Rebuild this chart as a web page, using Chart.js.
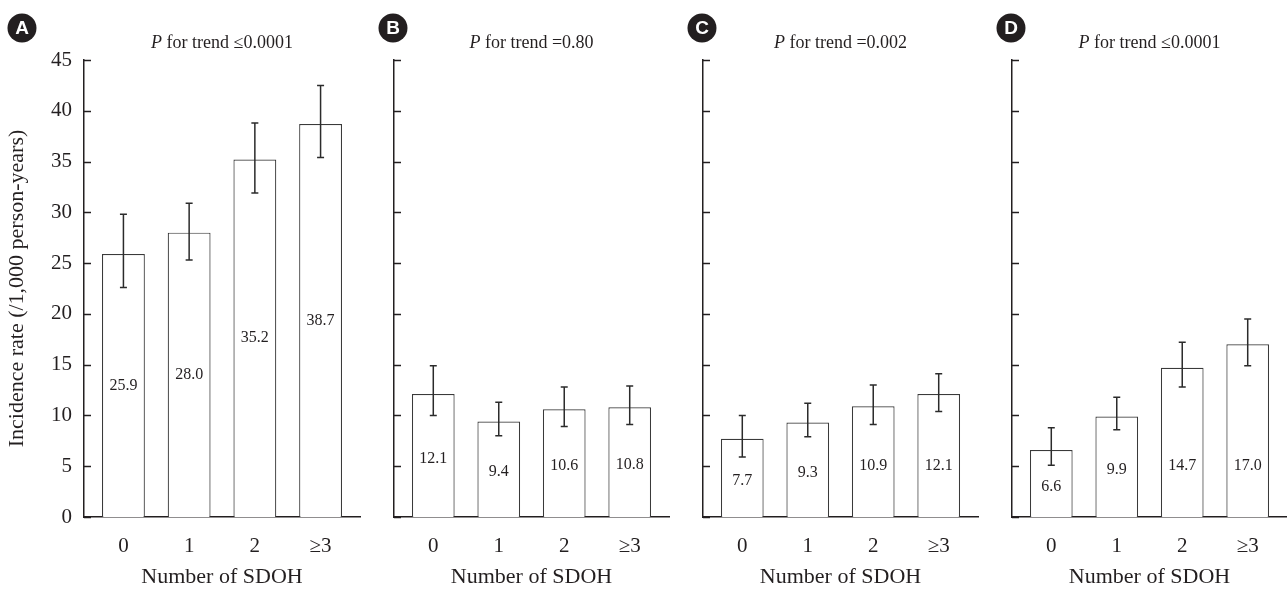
<!DOCTYPE html>
<html>
<head>
<meta charset="utf-8">
<script src="https://cdn.jsdelivr.net/npm/chart.js@4.4.1/dist/chart.umd.min.js"></script>
<style>
  body { margin: 0; background: #fff; }
  #wrap { position: relative; width: 1287px; height: 590px; }
  canvas { position: absolute; top: 0; }
</style>
</head>
<body>
<div id="wrap">
  <canvas id="panelA" width="370" height="590" style="left:0px"></canvas>
  <canvas id="panelB" width="310" height="590" style="left:370px"></canvas>
  <canvas id="panelC" width="310" height="590" style="left:680px"></canvas>
  <canvas id="panelD" width="297" height="590" style="left:990px"></canvas>
</div>
<script>
const categories = ['0', '1', '2', '≥3'];
const yTicks = [0, 5, 10, 15, 20, 25, 30, 35, 40, 45];

// incidence rate and 95% CI per panel
const rateA = [25.9, 28.0, 35.2, 38.7];
const lowA = [22.6, 25.3, 31.9, 35.4];
const highA = [29.8, 30.9, 38.8, 42.5];

const rateB = [12.1, 9.4, 10.6, 10.8];
const lowB = [10.0, 8.0, 8.9, 9.1];
const highB = [14.9, 11.3, 12.8, 12.9];

const rateC = [7.7, 9.3, 10.9, 12.1];
const lowC = [5.9, 7.9, 9.1, 10.4];
const highC = [10.0, 11.2, 13.0, 14.1];

const rateD = [6.6, 9.9, 14.7, 17.0];
const lowD = [5.1, 8.6, 12.8, 14.9];
const highD = [8.8, 11.8, 17.2, 19.5];

const INK = '#231f20';
const SERIF = '"Liberation Serif", "Times New Roman", serif';

// error bars, value labels, inward y ticks, panel title and letter badge
const panelDecor = {
    id: 'panelDecor',
    afterDatasetsDraw(chart, args, opts) {
        const ctx = chart.ctx;
        const ds = chart.data.datasets[0];
        const meta = chart.getDatasetMeta(0);
        const y = chart.scales.y;
        const area = chart.chartArea;
        ctx.save();

        // inward tick marks
        ctx.strokeStyle = INK;
        ctx.lineWidth = 1.5;
        y.ticks.forEach(t => {
            const py = Math.round(y.getPixelForValue(t.value)) + 0.5;
            ctx.beginPath();
            ctx.moveTo(area.left, py);
            ctx.lineTo(area.left + 7, py);
            ctx.stroke();
        });

        // error bars
        ctx.strokeStyle = '#2b2b2b';
        ctx.lineWidth = 1.5;
        meta.data.forEach((bar, i) => {
            const x = bar.x;
            const top = y.getPixelForValue(ds.ciHigh[i]);
            const bot = y.getPixelForValue(ds.ciLow[i]);
            ctx.beginPath();
            ctx.moveTo(x, top); ctx.lineTo(x, bot);
            ctx.moveTo(x - 3.5, top); ctx.lineTo(x + 3.5, top);
            ctx.moveTo(x - 3.5, bot); ctx.lineTo(x + 3.5, bot);
            ctx.stroke();
        });

        // value labels inside bars
        ctx.fillStyle = INK;
        ctx.font = '16px ' + SERIF;
        ctx.textAlign = 'center';
        ctx.textBaseline = 'middle';
        meta.data.forEach((bar, i) => {
            const v = ds.data[i].y;
            const py = y.getPixelForValue(Math.min(v / 2, opts.labelCap)) + opts.labelShift;
            ctx.fillText(v.toFixed(1), bar.x, py);
        });

        // title: italic P + rest
        const cx = (area.left + area.right) / 2;
        const italic = 'italic 18px ' + SERIF;
        const normal = '18px ' + SERIF;
        const rest = ' for trend ' + opts.trend;
        ctx.font = italic;
        const wP = ctx.measureText('P').width;
        ctx.font = normal;
        const wR = ctx.measureText(rest).width;
        const x0 = cx - (wP + wR) / 2;
        ctx.textAlign = 'left';
        ctx.font = italic;
        ctx.fillText('P', x0, 43);
        ctx.font = normal;
        ctx.fillText(rest, x0 + wP, 43);

        // letter badge
        const bx = opts.badgeX !== undefined ? opts.badgeX : area.left - 1;
        ctx.beginPath();
        ctx.arc(bx, 28, 14.5, 0, Math.PI * 2);
        ctx.fillStyle = INK;
        ctx.fill();
        ctx.fillStyle = '#fff';
        ctx.textAlign = 'center';
        ctx.font = 'bold 19px "Liberation Sans", Arial, sans-serif';
        ctx.fillText(opts.letter, bx, 29);

        ctx.restore();
    }
};

function makePanel(canvasId, rates, lows, highs, cfg) {
    new Chart(document.getElementById(canvasId), {
        type: 'bar',
        data: {
            datasets: [{
                data: rates.map((v, i) => ({ x: i, y: v })),
                ciLow: lows,
                ciHigh: highs,
                backgroundColor: '#ffffff',
                borderColor: '#3a3a3a',
                borderWidth: 1.2,
                barPercentage: 0.652,
                categoryPercentage: 1
            }]
        },
        options: {
            responsive: false,
            animation: false,
            layout: { padding: { left: 0, right: cfg.padRight, top: 60, bottom: 0 } },
            plugins: {
                legend: { display: false },
                tooltip: { enabled: false },
                panelDecor: {
                    letter: cfg.letter,
                    trend: cfg.trend,
                    badgeX: cfg.badgeX,
                    labelCap: cfg.labelCap,
                    labelShift: cfg.labelShift
                }
            },
            scales: {
                x: {
                    type: 'linear',
                    offset: false,
                    min: -0.6,
                    max: 3.6,
                    grid: { display: false },
                    border: { display: true, color: INK, width: 1.5 },
                    afterBuildTicks: scale => {
                        scale.ticks = categories.map((c, i) => ({ value: i }));
                    },
                    afterFit: scale => { scale.height = 73; },
                    ticks: {
                        padding: 9,
                        color: INK,
                        font: { family: SERIF, size: 21 },
                        callback: v => categories[v]
                    },
                    title: {
                        display: true,
                        text: 'Number of SDOH',
                        color: INK,
                        font: { family: SERIF, size: 22 },
                        padding: { top: 0, bottom: 0 }
                    }
                },
                y: {
                    min: 0,
                    max: 45,
                    afterBuildTicks: scale => {
                        scale.ticks = yTicks.map(v => ({ value: v }));
                    },
                    afterFit: scale => { scale.width = cfg.yWidth; },
                    grid: { display: false, drawTicks: false },
                    border: { display: true, color: INK, width: 1.5 },
                    ticks: {
                        display: cfg.showY,
                        padding: 12,
                        color: INK,
                        font: { family: SERIF, size: 21 }
                    },
                    title: {
                        display: cfg.showY,
                        text: 'Incidence rate (/1,000 person-years)',
                        color: INK,
                        font: { family: SERIF, size: 22 },
                        padding: { top: 4, bottom: 0 }
                    }
                }
            }
        },
        plugins: [panelDecor]
    });
}

makePanel('panelA', rateA, lowA, highA,
    { letter: 'A', trend: '≤0.0001', badgeX: 22, yWidth: 84, padRight: 10, showY: true, labelCap: Infinity, labelShift: 0 });
makePanel('panelB', rateB, lowB, highB,
    { letter: 'B', trend: '=0.80', yWidth: 24, padRight: 11, showY: false, labelCap: Infinity, labelShift: 3 });
makePanel('panelC', rateC, lowC, highC,
    { letter: 'C', trend: '=0.002', yWidth: 23, padRight: 12, showY: false, labelCap: 5.3, labelShift: 3 });
makePanel('panelD', rateD, lowD, highD,
    { letter: 'D', trend: '≤0.0001', yWidth: 22, padRight: 0, showY: false, labelCap: 5.3, labelShift: 3 });
</script>
</body>
</html>
